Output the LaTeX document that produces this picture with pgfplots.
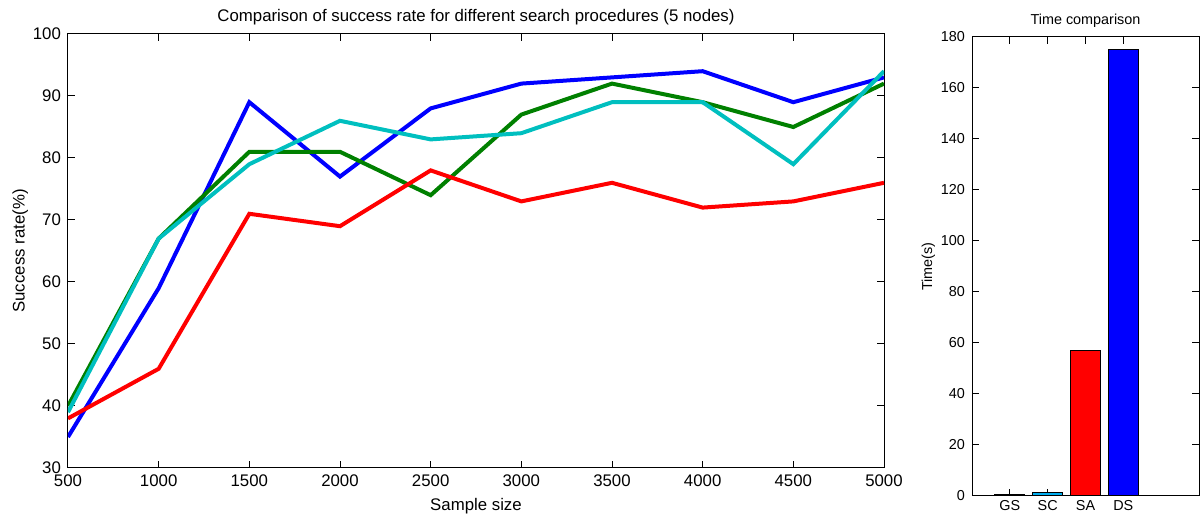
\documentclass[border=0pt]{standalone}
\usepackage{fontspec}
\setmainfont{Liberation Sans}
\usepackage{pgfplots}
\pgfplotsset{compat=1.18}

\definecolor{mgreen}{rgb}{0,0.5,0}
\definecolor{mcyan}{rgb}{0,0.75,0.75}

\pgfplotsset{
  matstyle/.style={
    scale only axis,
    anchor=south west,
    axis line style={line width=0.5pt, black},
    tick style={line width=0.5pt, black},
    major tick length=3.5pt,
    tick align=inside,
    /pgf/number format/assume math mode=true,
    scaled ticks=false,
  },
  fnt/.style={
    font=\fontsize{#1}{#1}\selectfont,
    tick label style={font=\fontsize{#1}{#1}\selectfont},
    label style={font=\fontsize{#1}{#1}\selectfont},
    title style={font=\fontsize{#1}{#1}\selectfont},
  },
  serie/.style={line width=2pt, mark=none},
}

\begin{document}
\begin{tikzpicture}
\path[use as bounding box] (0,0) rectangle (600pt,257pt);

% success rate for the four search procedures
\begin{axis}[matstyle, fnt=8.4,
  at={(34pt,23pt)}, width=408pt, height=217pt,
  xmin=500, xmax=5000, ymin=30, ymax=100,
  xtick={500,1000,...,5000}, ytick={30,40,...,100},
  xticklabel style={/pgf/number format/1000 sep={}},
  title={Comparison of success rate for different search procedures (5 nodes)},
  title style={yshift=-5pt},
  xlabel={Sample size}, ylabel={Success rate(\%)},
  ylabel style={yshift=-4.5pt},
  xlabel style={yshift=1pt},
]
\addplot[serie, blue] coordinates {
  (500,35) (1000,59) (1500,89) (2000,77) (2500,88)
  (3000,92) (3500,93) (4000,94) (4500,89) (5000,93)};
\addplot[serie, mgreen] coordinates {
  (500,40) (1000,67) (1500,81) (2000,81) (2500,74)
  (3000,87) (3500,92) (4000,89) (4500,85) (5000,92)};
\addplot[serie, red] coordinates {
  (500,38) (1000,46) (1500,71) (2000,69) (2500,78)
  (3000,73) (3500,76) (4000,72) (4500,73) (5000,76)};
\addplot[serie, mcyan] coordinates {
  (500,39) (1000,67) (1500,79) (2000,86) (2500,83)
  (3000,84) (3500,89) (4000,89) (4500,79) (5000,94)};
\end{axis}

% run time of each procedure
\begin{axis}[matstyle, fnt=7.2,
  at={(486pt,9pt)}, width=113.5pt, height=229.5pt,
  xmin=0, xmax=6, ymin=0, ymax=180,
  xtick={1,2,3,4}, xticklabels={GS,SC,SA,DS},
  ytick={0,20,...,180},
  title={Time comparison}, title style={yshift=-5pt},
  ylabel={Time(s)}, ylabel style={yshift=-4pt},
  xticklabel style={yshift=1.5pt},
]
\addplot[ybar, bar width=0.8, bar shift=0pt, fill=blue, draw=black, line width=0.5pt] coordinates {(1,0.5)};
\addplot[ybar, bar width=0.8, bar shift=0pt, fill=cyan, draw=black, line width=0.5pt] coordinates {(2,1.5)};
\addplot[ybar, bar width=0.8, bar shift=0pt, fill=red, draw=black, line width=0.5pt] coordinates {(3,57)};
\addplot[ybar, bar width=0.8, bar shift=0pt, fill=blue, draw=black, line width=0.5pt] coordinates {(4,175)};
\end{axis}
\end{tikzpicture}
\end{document}
